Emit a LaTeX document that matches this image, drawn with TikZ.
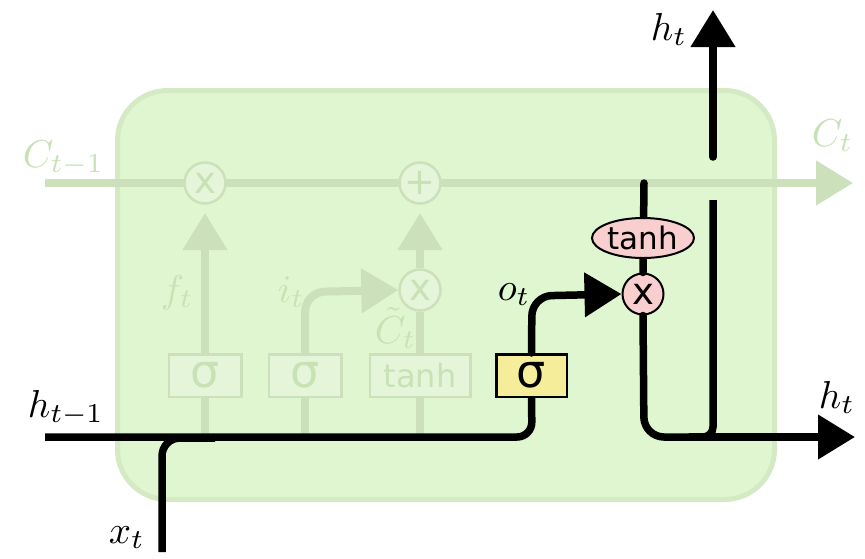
\documentclass[tikz,border=0pt]{standalone}
\usepackage{fontspec}
\newfontfamily\dv{DejaVu Sans}
\usetikzlibrary{arrows.meta,shapes.geometric}
\definecolor{boxfill}{RGB}{224,246,208}
\definecolor{boxedge}{RGB}{212,234,196}
\definecolor{fade}{RGB}{203,224,187}
\definecolor{fadefill}{RGB}{229,245,217}
\definecolor{fadetext}{RGB}{200,226,182}
\definecolor{pinkf}{RGB}{248,206,206}
\definecolor{yelf}{RGB}{246,237,154}
\begin{document}
\begin{tikzpicture}[x=1pt,y=-1pt,
  >={Triangle[length=37pt,width=43pt]},
  bk/.style={line width=7.5pt, black, line cap=round},
  fd/.style={line width=8pt, fade},
  fcirc/.style={circle, draw=fade, fill=fadefill, line width=2.5pt, minimum size=41pt, inner sep=0pt, text=fadetext},
  fbox/.style={draw=fade, fill=fadefill, line width=2.5pt, minimum height=42.5pt, inner sep=0pt, text=fadetext},
  lab/.style={scale=3.9, inner sep=0pt},
  flab/.style={lab, text=fadetext}]
\useasboundingbox (0,0) rectangle (865,558);
% cell box
\draw[boxedge, fill=boxfill, line width=5pt, rounded corners=50pt] (117.5,90.5) rectangle (774.5,499.5);
% cell state line (faded)
\coordinate (cin) at (45,183);
\coordinate (cout) at (853,183);
\draw[fd, line cap=butt, ->] (cin) -- (cout);
\node[fcirc] (fx) at (205,183) {\fontsize{37}{37}\selectfont\dv x};
\node[fcirc] (fp) at (420,183) {\fontsize{37}{37}\selectfont\dv +};
\node[fcirc] (fm) at (420,290) {\fontsize{37}{37}\selectfont\dv x};
% faded gate boxes
\node[fbox, minimum width=72.5pt] (s1) at (205,375.5) {\fontsize{46}{46}\selectfont\dv σ};
\node[fbox, minimum width=72.5pt] (s2) at (305,375.5) {\fontsize{46}{46}\selectfont\dv σ};
\node[fbox, minimum width=100.5pt] (s3) at (420,375.5) {\fontsize{32}{32}\selectfont\dv tanh};
% faded connectors
\coordinate (fxt) at (205,213);
\coordinate (fpt) at (420,213);
\coordinate (b1) at (205,437);
\coordinate (b2) at (305,437);
\coordinate (b3) at (420,437);
\draw[fd, ->] (s1.north) -- (fxt);
\draw[fd, ->] (fm.north) -- (fpt);
\draw[fd, ->, rounded corners=20pt] (s2.north) -- (305,292) -- (fm.west);
\draw[fd] (s3.north) -- (fm.south);
\draw[fd] (b1) -- (s1.south);
\draw[fd] (b2) -- (s2.south);
\draw[fd] (b3) -- (s3.south);
% faded labels
\node[flab, anchor=base west] (lc0) at (22,167) {$C_{t-1}$};
\node[flab, anchor=base west] (lc1) at (811,146) {$C_t$};
\node[flab, anchor=base west] (lf) at (160,302) {$f_t$};
\node[flab, anchor=base west] (li) at (277,302) {$i_t$};
\node[flab, anchor=base west] (lct) at (374,343) {$\tilde{C}_t$};
% output gate (black)
\node[draw, fill=yelf, line width=2.5pt, minimum width=70.5pt, minimum height=42.5pt, inner sep=0pt] (sig) at (531.5,375.5) {\fontsize{46}{46}\selectfont\dv σ};
\coordinate (hin) at (45,437);
\coordinate (xin) at (162,552);
\coordinate (hout) at (855,437);
\coordinate (htop) at (713,10);
\coordinate (tanhtop) at (644,183);
\draw[bk, line cap=butt, rounded corners=15pt] (hin) -- (532,437) -- (sig.south);
\draw[bk, line cap=butt, rounded corners=18pt] (xin) -- (162,438) -- (215,438);
\node[circle, draw, fill=pinkf, line width=2pt, minimum size=41pt, inner sep=0pt] (mul) at (643,294) {\fontsize{37}{37}\selectfont\dv x};
\draw[bk, ->, rounded corners=20pt] (sig.north) -- (532,296) -- (mul.west);
\draw[bk] (tanhtop) -- (mul.north);
\draw[bk, rounded corners=20pt] (mul.south) -- (644,437) -- (700,437);
\draw[bk, line cap=butt, rounded corners=10pt] (690,437) -- (713,437) -- (713,200);
\draw[bk, ->] (690,437) -- (hout);
\draw[bk, ->] (713,157) -- (htop);
\node[ellipse, draw, fill=pinkf, line width=2pt, minimum width=102pt, minimum height=40pt, inner sep=0pt] (th) at (643,238) {\fontsize{31}{31}\selectfont\dv tanh};
% black labels
\node[lab, anchor=base west] (lh0) at (27,417) {$h_{t-1}$};
\node[lab, anchor=base west] (lx) at (108,543) {$x_t$};
\node[lab, anchor=base west] (lo) at (497,300) {$o_t$};
\node[lab, anchor=base west] (lh1) at (650,40) {$h_t$};
\node[lab, anchor=base west] (lh2) at (818,408) {$h_t$};
\end{tikzpicture}
\end{document}
